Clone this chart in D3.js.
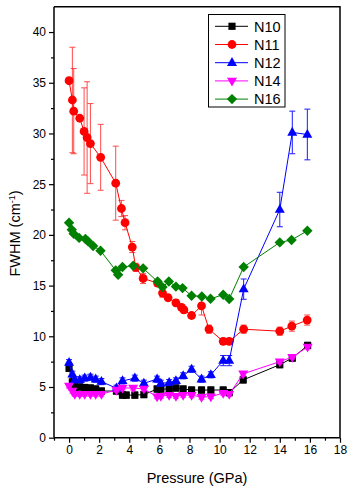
<!DOCTYPE html>
<html>
<head>
<meta charset="utf-8">
<script src="https://cdn.jsdelivr.net/npm/d3@7"></script>
<style>
  html, body { margin: 0; padding: 0; background: #fff; }
  svg { display: block; font-family: "Liberation Sans", Arial, sans-serif; }
</style>
</head>
<body>
<svg id="chart" width="353" height="491"></svg>
<script>
// ---- data (pressure GPa, FWHM cm^-1, error) ----
const seriesNames = ["N10", "N11", "N12", "N14", "N16"];
const seriesColors = ["#000000", "#ff0000", "#0000ff", "#ff00ff", "#008000"];

const n10P = [0, 0.22, 0.38, 0.71, 1.04, 1.42, 1.77, 2.15, 3.15, 3.55, 3.8, 4.37, 4.97, 5.85, 6.1, 6.65, 7.1, 7.58, 8.14, 8.8, 9.42, 10.24, 10.64, 11.57, 14.0, 14.83, 15.85];
const n10V = [6.85, 5.5, 5.0, 5.0, 4.95, 4.9, 4.8, 4.6, 4.6, 4.2, 4.2, 4.2, 4.25, 4.8, 4.8, 4.8, 4.9, 4.8, 4.7, 4.7, 4.7, 4.7, 4.45, 5.7, 7.2, 7.85, 9.1];
const n10E = [0.3, 0.3, 0.3, 0.3, 0.3, 0.3, 0.3, 0.3, 0.3, 0.3, 0.3, 0.3, 0.3, 0.3, 0.3, 0.3, 0.3, 0.3, 0.3, 0.3, 0.3, 0.3, 0.3, 0.3, 0.3, 0.3, 0.3];

const n11P = [0, 0.22, 0.31, 0.71, 1.0, 1.2, 1.42, 2.1, 3.1, 3.48, 3.72, 4.2, 4.43, 4.92, 5.88, 6.21, 6.58, 7.1, 7.47, 7.63, 8.14, 8.8, 9.3, 10.24, 10.64, 11.6, 14.0, 14.8, 15.82];
const n11V = [35.2, 33.3, 32.2, 31.5, 30.2, 29.6, 29.0, 27.65, 25.1, 22.6, 21.2, 18.8, 16.8, 15.7, 15.25, 14.26, 13.8, 13.3, 12.85, 12.6, 12.05, 13.0, 10.7, 9.5, 9.5, 10.7, 10.5, 11.0, 11.6];
const n11E = [0, 5.2, 4.2, 0, 4.3, 5.5, 3.95, 3.25, 3.65, 0.8, 0.7, 0.55, 0.4, 0.5, 0.3, 0.4, 0.3, 0.3, 0.3, 0.3, 0.3, 0.9, 0.4, 0.3, 0.3, 0.4, 0.4, 0.5, 0.5];

const n12P = [0, 0.22, 0.38, 0.71, 1.04, 1.42, 1.77, 2.15, 3.15, 3.55, 4.37, 4.97, 5.85, 6.1, 6.65, 7.1, 7.58, 8.14, 8.8, 9.42, 10.24, 10.64, 11.6, 14.0, 14.83, 15.83];
const n12V = [7.4, 6.26, 5.7, 5.7, 5.87, 5.96, 5.77, 5.53, 4.88, 5.6, 5.87, 5.37, 5.77, 5.37, 5.43, 5.6, 6.1, 6.75, 5.77, 6.2, 7.6, 7.6, 14.65, 22.5, 30.1, 29.9];
const n12E = [0.3, 0.3, 0.3, 0.3, 0.3, 0.3, 0.3, 0.3, 0.3, 0.3, 0.3, 0.3, 0.3, 0.3, 0.3, 0.3, 0.3, 0.3, 0.3, 0.3, 0.5, 0.5, 1.0, 1.7, 2.1, 2.5];

const n14P = [0, 0.22, 0.38, 0.71, 1.04, 1.42, 1.77, 2.15, 3.15, 3.55, 4.26, 4.97, 5.85, 6.1, 6.65, 7.1, 7.58, 8.14, 8.8, 9.42, 10.24, 10.64, 11.57, 14.0, 14.83, 15.85];
const n14V = [5.1, 4.6, 4.3, 4.3, 4.3, 4.3, 4.3, 4.3, 4.7, 4.9, 4.9, 4.8, 4.05, 4.1, 4.2, 4.1, 4.2, 4.2, 4.0, 4.05, 4.4, 4.3, 6.3, 7.5, 7.95, 8.95];
const n14E = [0.2, 0.2, 0.2, 0.2, 0.2, 0.2, 0.2, 0.2, 0.2, 0.2, 0.2, 0.2, 0.2, 0.2, 0.2, 0.2, 0.2, 0.2, 0.2, 0.2, 0.2, 0.2, 0.2, 0.2, 0.2, 0.2];

const n16P = [0, 0.18, 0.31, 0.67, 1.09, 1.26, 1.6, 2.09, 3.1, 3.26, 3.55, 4.26, 4.92, 5.88, 6.21, 6.63, 7.1, 7.54, 8.14, 8.82, 9.4, 10.24, 10.64, 11.6, 14.0, 14.78, 15.83];
const n16V = [21.2, 20.5, 20.1, 19.7, 19.6, 19.36, 18.9, 18.44, 16.5, 16.07, 16.83, 16.96, 16.7, 15.4, 14.85, 15.4, 14.9, 14.75, 14.0, 13.93, 13.7, 14.1, 13.67, 16.83, 19.26, 19.5, 20.4];

const xTicks = [0, 2, 4, 6, 8, 10, 12, 14, 16, 18];
const yTicks = [0, 5, 10, 15, 20, 25, 30, 35, 40];

const seriesData = [
  { name: "N10", P: n10P, V: n10V, E: n10E, sym: "square" },
  { name: "N11", P: n11P, V: n11V, E: n11E, sym: "circle" },
  { name: "N12", P: n12P, V: n12V, E: n12E, sym: "up" },
  { name: "N14", P: n14P, V: n14V, E: n14E, sym: "down" },
  { name: "N16", P: n16P, V: n16V, E: null, sym: "diamond" }
];

// ---- layout ----
const svg = d3.select("#chart");
const L = 54, R = 340, T = 6.7, B = 437.7;
const x = d3.scaleLinear().domain([-1, 18]).range([L, R]);
const y = d3.scaleLinear().domain([0, 42.5]).range([B, T]);

function symPath(sym) {
  switch (sym) {
    case "square": return "M-3.6,-3.6H3.6V3.6H-3.6Z";
    case "circle": return "M4.4,0A4.4,4.4 0 1,1 -4.4,0A4.4,4.4 0 1,1 4.4,0Z";
    case "up": return "M0,-5.6L5,3.2L-5,3.2Z";
    case "down": return "M0,5.6L5,-3.2L-5,-3.2Z";
    case "diamond": return "M0,-5.2L5.2,0L0,5.2L-5.2,0Z";
  }
}

// Y axis
const yAxis = d3.axisLeft(y).tickValues(yTicks).tickSize(5).tickPadding(3).tickFormat(d3.format("d"));
const yA = svg.append("g").attr("transform", `translate(${L},0)`).call(yAxis);
const yMinor = d3.axisLeft(y).tickValues(d3.range(2.5, 42.5, 5)).tickSize(3).tickFormat("");
svg.append("g").attr("transform", `translate(${L},0)`).call(yMinor).select(".domain").remove();
// X axis
const xAxis = d3.axisBottom(x).tickValues(xTicks).tickSize(5).tickPadding(3).tickFormat(d3.format("d"));
const xA = svg.append("g").attr("transform", `translate(0,${B})`).call(xAxis);
const xMinor = d3.axisBottom(x).tickValues(d3.range(-1, 18, 2)).tickSize(3).tickFormat("");
svg.append("g").attr("transform", `translate(0,${B})`).call(xMinor).select(".domain").remove();

svg.selectAll(".tick text").attr("font-size", 12).attr("fill", "#000")
  .attr("font-family", "'Liberation Sans', Arial, sans-serif");
svg.selectAll(".tick line").attr("stroke", "#000").attr("stroke-width", 1.2);
svg.selectAll(".domain").attr("stroke", "#000").attr("stroke-width", 1.5);
yA.select(".domain").attr("d", `M-0,${B}V${T}`);
xA.select(".domain").attr("d", `M${L},0H${R}`);

// top & right border
svg.append("path").attr("d", `M${L},${T}H${R}V${B}`).attr("fill", "none")
  .attr("stroke", "#000").attr("stroke-width", 1.5);

// axis titles
svg.append("text").attr("x", (L + R) / 2).attr("y", 483).attr("text-anchor", "middle")
  .attr("font-size", 14.5).text("Pressure (GPa)");
const yt = svg.append("text").attr("transform", "translate(20,233.5) rotate(-90)")
  .attr("text-anchor", "middle").attr("font-size", 14.5);
yt.append("tspan").text("FWHM (cm");
yt.append("tspan").attr("dy", -5).attr("font-size", 9).text("-1");
yt.append("tspan").attr("dy", 5).text(")");

// ---- series ----
const plot = svg.append("g");
seriesData.forEach((s, i) => {
  const col = seriesColors[i];
  const pts = s.P.map((p, j) => ({ p, v: s.V[j], e: s.E ? s.E[j] : 0 }));
  const g = plot.append("g");
  g.append("path").datum(pts)
    .attr("d", d3.line().x(d => x(d.p)).y(d => y(d.v)))
    .attr("fill", "none").attr("stroke", col).attr("stroke-width", 1);
  // error bars
  const eb = g.selectAll(".eb").data(pts.filter(d => d.e > 0)).enter().append("g")
    .attr("stroke", col).attr("stroke-width", 1).attr("opacity", i === 1 ? 0.7 : 0.9);
  eb.append("line").attr("x1", d => x(d.p)).attr("x2", d => x(d.p))
    .attr("y1", d => y(d.v - d.e)).attr("y2", d => y(d.v + d.e));
  eb.append("line").attr("x1", d => x(d.p) - 3).attr("x2", d => x(d.p) + 3)
    .attr("y1", d => y(d.v + d.e)).attr("y2", d => y(d.v + d.e));
  eb.append("line").attr("x1", d => x(d.p) - 3).attr("x2", d => x(d.p) + 3)
    .attr("y1", d => y(d.v - d.e)).attr("y2", d => y(d.v - d.e));
  g.selectAll(".m").data(pts).enter().append("path")
    .attr("d", symPath(s.sym))
    .attr("transform", d => `translate(${x(d.p)},${y(d.v)})`)
    .attr("fill", col);
});

// ---- legend ----
const lg = svg.append("g");
lg.append("rect").attr("x", 208.5).attr("y", 14.5).attr("width", 76.5).attr("height", 92.5)
  .attr("fill", "#fff").attr("stroke", "#000").attr("stroke-width", 1);
seriesData.forEach((s, i) => {
  const yy = 26.3 + i * 18.2;
  lg.append("line").attr("x1", 215).attr("x2", 248).attr("y1", yy).attr("y2", yy)
    .attr("stroke", seriesColors[i]).attr("stroke-width", 1);
  lg.append("path").attr("d", symPath(s.sym)).attr("transform", `translate(232,${yy})`)
    .attr("fill", seriesColors[i]);
  lg.append("text").attr("x", 254).attr("y", yy + 5.2).attr("font-size", 14.5).text(seriesNames[i]);
});
</script>
</body>
</html>
